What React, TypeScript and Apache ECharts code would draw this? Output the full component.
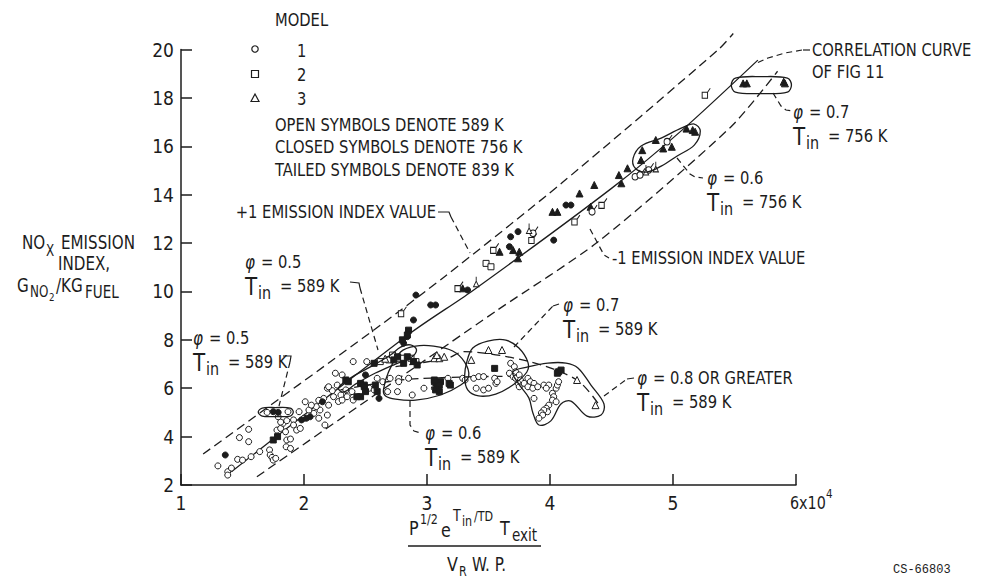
import React, { useEffect, useRef } from 'react';
import * as echarts from 'echarts';

const INK = '#1c1c1c';
const FONT = '"DejaVu Sans Condensed", "DejaVu Sans", sans-serif';
const MONO = '"Liberation Mono", "DejaVu Sans Mono", monospace';
const SX = 0.885;

// ---- axes ----
const X_MIN = 1, X_MAX = 6, X_STEP = 1;
const Y_MIN = 2, Y_MAX = 20, Y_STEP = 2;

// ---- data: model 1 (circles), 2 (squares), 3 (triangles) ----
const openCircles589 = [
  [1.30,2.79],[1.38,2.55],[1.38,2.41],[1.41,2.70],[1.46,3.06],[1.475,3.96],[1.55,3.79],[1.55,4.30],[1.50,3.03],[1.57,3.17],
  [1.64,3.38],[1.72,3.45],[1.725,3.24],[1.74,3.14],[1.75,3.03],[1.77,3.10],[1.70,5.00],[1.87,5.03],[1.78,4.27],[1.81,4.34],
  [1.85,4.20],[1.86,3.86],[1.89,3.90],[1.83,4.55],[1.81,4.60],[1.79,4.82],[1.86,4.66],[1.915,4.69],[1.96,5.03],[1.915,4.48],
  [1.94,4.27],[1.855,3.58],[1.89,3.51],[1.97,4.34],[2.01,5.44],[2.08,4.96],[2.12,4.76],[2.13,5.10],[2.10,5.24],[2.17,4.48],
  [2.19,4.89],[2.16,5.58],[2.19,6.00],[2.00,4.76],[2.04,5.10],[2.06,5.30],[2.12,5.50],[2.20,5.30],[2.23,5.90],[2.28,5.45],
  [2.36,5.75],[2.20,6.06],[2.24,5.65],[2.255,6.62],[2.27,6.13],[2.31,6.55],[2.30,5.72],[2.31,5.51],[2.35,5.65],[2.34,5.93],
  [2.39,5.86],[2.40,5.51],[2.40,7.10],[2.51,7.10],[2.53,6.00],[2.57,5.93],[2.595,6.41],[2.64,6.27],[2.70,6.41],[2.77,6.41],
  [2.76,5.86],[2.85,6.41],[2.88,5.72],[2.975,6.00],[3.06,6.00],[2.77,6.27],[2.68,5.86],[3.17,6.41],[3.29,6.41],[3.31,6.34],
  [3.38,6.41],[3.42,6.48],[3.46,6.48],[3.40,6.00],[3.46,5.93],[3.50,6.00],[3.55,6.41],[3.56,6.20],[3.57,6.27],[3.68,7.03],
  [3.71,6.89],[3.72,6.68],[3.67,6.62],[3.70,6.48],[3.72,6.41],[3.75,6.55],[3.76,6.34],[3.79,6.20],[3.82,6.41],[3.84,6.27],
  [3.87,6.20],[3.74,6.20],[3.75,6.06],[3.82,6.06],[3.86,6.00],[3.90,6.06],[3.95,6.13],[3.99,6.13],[3.97,6.00],[3.87,5.58],
  [4.02,5.79],[4.03,5.65],[4.02,5.51],[4.05,5.44],[3.99,5.30],[3.97,5.17],[3.98,5.03],[3.95,5.10],[3.93,4.98],[3.94,4.89],
  [3.91,4.76],[4.05,6.00],[4.06,6.13],[4.07,6.27]
];
const openSquares589 = [
  [2.69,7.17],[2.72,7.37],[2.77,7.24],[2.81,7.24],[2.87,7.24],[2.91,7.10],[2.62,7.10],[3.48,11.16],[3.52,11.02]
];
const openTriangles589 = [
  [3.06,7.24],[3.10,7.24],[3.08,7.37],[3.14,7.30],[3.36,7.17],[3.50,7.58],[3.61,7.58],[4.22,6.34],[4.37,5.30],[2.66,7.22]
];
const closedCircles756 = [
  [1.36,3.24],[1.75,5.03],[1.79,5.00],[1.98,4.69],[2.02,4.76],[2.05,4.82],[2.15,5.44],[2.81,7.86],[2.84,8.13],[2.85,8.34],
  [2.89,8.82],[2.91,9.85],[3.03,9.44],[3.07,9.44],[3.33,10.06],[3.67,11.85],[3.68,12.26],[3.74,12.47],[4.13,13.57],[4.17,13.57],
  [4.03,12.12],[2.50,6.55],[2.61,5.58]
];
const closedSquares756 = [
  [1.75,3.86],[1.785,4.00],[2.34,6.34],[2.36,6.27],[2.46,6.20],[2.49,6.13],[2.46,5.65],[2.49,6.06],[2.50,5.86],[2.58,6.13],
  [2.595,5.86],[2.43,5.65],[2.73,7.17],[2.81,7.03],[2.84,7.30],[2.89,7.10],[2.57,7.03],[2.76,7.30],[2.92,6.96],[2.80,8.00],
  [2.85,8.40],[2.84,8.20],[3.06,6.27],[3.08,6.06],[3.11,6.27],[3.10,6.13],[3.18,6.20],[3.06,6.34],[3.07,5.93],[3.10,5.86],
  [3.19,6.13],[3.55,6.82],[4.06,6.62],[4.07,6.68],[4.09,6.75]
];
const closedTriangles756 = [
  [3.29,10.13],[3.59,11.64],[3.70,11.71],[3.75,11.64],[3.74,11.37],[4.02,13.29],[4.06,13.29],[4.24,14.05],[4.36,14.40],[4.56,14.81],
  [4.58,14.47],[4.63,15.09],[4.74,15.43],[4.75,15.84],[4.86,16.26],[4.92,15.91],[4.99,15.98],[5.11,16.73],[5.16,16.67],[5.18,16.60],
  [5.57,18.60],[5.60,18.60],[5.90,18.67],[5.91,18.60],[4.33,13.50]
];
const tailedCircles839 = [[4.35,13.36],[4.70,14.81],[4.74,14.88],[4.81,15.09],[4.96,16.26],[3.87,12.47]];
const tailedSquares839 = [[3.26,10.20],[3.55,11.78],[2.80,9.16],[3.86,12.19],[4.21,12.95],[4.43,13.64],[5.27,18.19]];
const tailedTriangles839 = [[3.40,10.40],[3.83,12.60],[4.78,15.02],[4.86,15.15]];

// ---- curves ----
const correlationCurve = [[1.41,2.55],[2.88,8.33],[3.36,9.99],[4.50,14.26],[5.09,16.74],[5.69,19.56]];
const plusOneLine = [[1.18,3.28],[2.62,8.6],[3.14,10.6],[4.10,14.5],[5.37,20.0],[5.49,20.66]];
const minusOneLine = [[1.617,2.34],[3.573,9.23],[4.39,12.05],[5.47,16.8],[5.85,19.1]];
const trend589Low = [[2.296,5.93],[2.785,6.34],[3.274,6.46],[3.722,6.50]];
const trend589High = [[2.744,6.89],[3.165,7.24],[3.30,7.51],[3.84,7.09],[4.22,6.34],[4.39,5.38]];

// ---- enclosing outlines (data coordinates) ----
const outlinePhi05a = [[1.628,5.02],[1.66,5.18],[1.766,5.20],[1.888,5.18],[1.913,5.02],[1.888,4.85],[1.766,4.83],[1.66,4.85]];
const outlinePhi05b = [[2.28,6.01],[2.377,6.42],[2.54,6.88],[2.703,7.37],[2.785,7.70],[2.866,7.79],[2.915,7.58],[2.866,7.25],[2.744,7.0],[2.581,6.63],[2.418,6.17],[2.32,5.84]];
const outlinePhi06x589 = [[2.646,5.93],[2.687,6.67],[2.785,7.50],[2.907,7.74],[3.054,7.74],[3.209,7.54],[3.306,7.08],[3.339,6.50],[3.274,6.13],[3.111,5.72],[2.907,5.51],[2.744,5.55],[2.663,5.68]];
const outlinePhi07x589 = [[3.323,7.08],[3.372,7.66],[3.494,7.95],[3.641,7.99],[3.747,7.66],[3.820,7.08],[3.812,6.67],[3.698,6.13],[3.559,5.76],[3.420,5.68],[3.331,5.93],[3.306,6.46]];
const outlinePhi08x589 = [[3.698,6.67],[3.820,6.88],[3.983,7.04],[4.130,7.04],[4.227,6.84],[4.333,6.13],[4.439,5.35],[4.415,4.89],[4.301,4.85],[4.170,5.47],[4.089,5.35],[4.007,4.65],[3.910,4.48],[3.861,4.98],[3.828,5.60],[3.747,6.17]];
const outlinePhi06x756 = [[4.676,15.51],[4.741,16.01],[4.904,16.34],[5.067,16.75],[5.173,16.92],[5.222,16.63],[5.173,16.05],[5.034,15.60],[4.904,15.18],[4.782,14.93],[4.692,15.10]];
const outlinePhi07x756 = [[5.474,18.53],[5.507,18.82],[5.719,18.88],[5.930,18.82],[5.963,18.53],[5.930,18.24],[5.719,18.18],[5.507,18.24]];

const TAIL_CIRCLE = 'path://M1,9a3,3 0 1,0 6,0a3,3 0 1,0 -6,0zM6.1,6.9L9,3';
const TAIL_SQUARE = 'path://M1,6h6v6h-6zM7,6L10,2';
const TAIL_TRIANGLE = 'path://M1,12L4.5,6L8,12zM4.5,6L4.5,1.5';

const scatter = (name: string, data: number[][], symbol: string, filled: boolean, size: any) => ({
  type: 'scatter', name, data, symbol, symbolSize: size, symbolKeepAspect: true, silent: true, z: 4,
  itemStyle: { color: filled ? INK : '#ffffff', borderColor: INK, borderWidth: 1, opacity: 1 },
});
const curve = (data: number[][], dashed: boolean, smooth = 0.25) => ({
  type: 'line', data, smooth, symbol: 'none', silent: true, clip: false, z: 2,
  lineStyle: { color: INK, width: 1.3, type: dashed ? [9, 5] : 'solid' },
});

const txt = (x: number, y: number, s: string, size = 18.5, o: any = {}) => ({
  type: 'text', x, y, silent: true, z: 10, scaleX: o.family ? 1 : SX,
  style: {
    text: s, fill: INK,
    font: `${o.italic ? 'italic ' : ''}${size}px ${o.family || FONT}`,
    align: o.align || 'left', verticalAlign: 'middle',
    textAlign: o.align || 'left', textVerticalAlign: 'middle',
  },
});
const poly = (pts: number[][], dashed = true, w = 1.2) => ({
  type: 'polyline', silent: true, z: 9,
  shape: { points: pts },
  style: { stroke: INK, lineWidth: w, fill: null, lineDash: dashed ? [6, 4] : null },
});
const phiBlock = (x: number, y: number, phi: string, tin: string) => [
  txt(x, y, 'φ', 19, { italic: true }),
  txt(x + 16, y, '= ' + phi, 18.5),
  txt(x, y + 25, 'T', 25),
  txt(x + 13, y + 31, 'in', 18),
  txt(x + 35, y + 24, '= ' + tin + ' K', 18.5),
];

export default function App() {
  const ref = useRef<HTMLDivElement>(null);
  useEffect(() => {
    const el = ref.current!;
    const chart = echarts.init(el, null, { renderer: 'svg' });
    const axisCommon = {
      type: 'value',
      axisLine: { show: true, onZero: false, lineStyle: { color: INK, width: 1.5 } },
      axisTick: { show: true, inside: true, length: 11, lineStyle: { color: INK, width: 1.5 } },
      splitLine: { show: false },
    };
    chart.setOption({
      animation: false,
      backgroundColor: '#ffffff',
      grid: { left: 181, right: 206, top: 49.5, bottom: 99, containLabel: false },
      xAxis: {
        ...axisCommon, min: X_MIN, max: X_MAX, interval: X_STEP,
        axisLabel: { color: INK, fontSize: 19, fontFamily: FONT, margin: 8, formatter: (v: number) => (v === X_MAX ? '' : String(v)) },
      },
      yAxis: {
        ...axisCommon, min: Y_MIN, max: Y_MAX, interval: Y_STEP,
        axisLabel: { color: INK, fontSize: 19, fontFamily: FONT, margin: 7 },
      },
      series: [
        curve(correlationCurve, false),
        curve(plusOneLine, true),
        curve(minusOneLine, true),
        curve(trend589Low, true, 0.3),
        curve(trend589High, true, 0.3),
        scatter('m1-589', openCircles589, 'circle', false, 6),
        scatter('m2-589', openSquares589, 'rect', false, 6),
        scatter('m3-589', openTriangles589, 'triangle', false, 7),
        scatter('m1-756', closedCircles756, 'circle', true, 6),
        scatter('m2-756', closedSquares756, 'rect', true, 6),
        scatter('m3-756', closedTriangles756, 'triangle', true, 7),
        scatter('m1-839', tailedCircles839, TAIL_CIRCLE, false, [9, 10]),
        scatter('m2-839', tailedSquares839, TAIL_SQUARE, false, [9, 10]),
        scatter('m3-839', tailedTriangles839, TAIL_TRIANGLE, false, [8, 10]),
      ],
    });

    const px = (p: number[]) => chart.convertToPixel({ gridIndex: 0 }, p) as number[];
    const outline = (pts: number[][]) => ({
      type: 'polygon', silent: true, z: 8,
      shape: { points: pts.map(px), smooth: 0.35 },
      style: { fill: 'none', stroke: INK, lineWidth: 1.3 },
    });

    const g: any[] = [
      outline(outlinePhi05a), outline(outlinePhi05b), outline(outlinePhi06x589), outline(outlinePhi07x589),
      outline(outlinePhi08x589), outline(outlinePhi06x756), outline(outlinePhi07x756),
      // legend
      txt(275, 20, 'MODEL', 18.5),
      { type: 'circle', silent: true, shape: { cx: 255, cy: 49, r: 3.2 }, style: { fill: '#fff', stroke: INK, lineWidth: 1.2 } },
      { type: 'rect', silent: true, shape: { x: 251.5, y: 70.5, width: 7, height: 7 }, style: { fill: '#fff', stroke: INK, lineWidth: 1.2 } },
      { type: 'polygon', silent: true, shape: { points: [[255, 94], [259, 101.5], [251, 101.5]] }, style: { fill: '#fff', stroke: INK, lineWidth: 1.2 } },
      txt(297, 51, '1'), txt(297, 75, '2'), txt(297, 99, '3'),
      txt(275, 125, 'OPEN SYMBOLS DENOTE 589 K'),
      txt(275, 147, 'CLOSED SYMBOLS DENOTE 756 K'),
      txt(275, 170, 'TAILED SYMBOLS DENOTE 839 K'),
      // y-axis title
      txt(22, 242, 'NO', 19), txt(46, 251, 'X', 15), txt(61, 242, 'EMISSION', 19),
      txt(58, 263, 'INDEX,', 19),
      txt(17, 285, 'G', 19), txt(30, 292, 'NO', 15), txt(49, 297, '2', 11), txt(56, 285, '/KG', 19), txt(85, 292, 'FUEL', 17),
      // x tick "6x10^4"
      txt(790, 503, '6x10', 18), txt(826, 494, '4', 13),
      // x-axis title
      txt(409, 528, 'P', 20), txt(420, 519, '1/2', 14), txt(441, 530, 'e', 20),
      txt(453, 516, 'T', 16), txt(462, 521, 'in', 14), txt(474, 516, '/TD', 14),
      txt(500, 528, 'T', 20), txt(512, 535, 'exit', 17),
      { type: 'line', silent: true, shape: { x1: 408, y1: 546, x2: 541, y2: 546 }, style: { stroke: INK, lineWidth: 1.5 } },
      txt(447, 564, 'V', 20), txt(459, 571, 'R', 14), txt(472, 564, 'W. P.', 19),
      // annotations
      ...phiBlock(193, 338, '0.5', '589'),
      ...phiBlock(245, 262, '0.5', '589'),
      ...phiBlock(563, 305, '0.7', '589'),
      ...phiBlock(637, 378, '0.8 OR GREATER', '589'),
      ...phiBlock(425, 433, '0.6', '589'),
      ...phiBlock(707, 178, '0.6', '756'),
      ...phiBlock(793, 112, '0.7', '756'),
      txt(436, 212, '+1 EMISSION INDEX VALUE', 18.5, { align: 'right' }),
      txt(612, 258, '-1 EMISSION INDEX VALUE', 18.5),
      txt(812, 50, 'CORRELATION CURVE', 18.5),
      txt(812, 72, 'OF FIG 11', 18.5),
      txt(893, 570, 'CS-66803', 12, { family: MONO }),
      // leaders
      poly([[283, 356], [291, 356], [290, 362]], false),
      poly([[290, 362], [279, 406]]),
      poly([[350, 282], [359, 283], [360, 288]], false),
      poly([[360, 288], [378, 350]]),
      poly([[438, 212], [449, 212], [451, 217]], false),
      poly([[451, 217], [470, 253]]),
      poly([[590, 229], [604, 255], [609, 258]]),
      poly([[514, 347], [553, 306]]), poly([[553, 306], [559, 304]], false),
      poly([[604, 396], [627, 379]]), poly([[627, 379], [634, 378]], false),
      poly([[410, 401], [410, 425], [414, 431], [421, 433]]),
      poly([[677, 158], [690, 174], [695, 177], [703, 178]]),
      poly([[773, 93], [781, 106], [786, 110], [792, 111]]),
      poly([[803, 50], [810, 50]], false),
      poly([[802, 50], [785, 53], [768, 58], [757, 63]]),
    ];
    chart.setOption({ graphic: g });
    return () => chart.dispose();
  }, []);
  return (
    <div
      ref={ref}
      style={{ position: 'absolute', left: 0, top: 0, width: 1002, height: 584, background: '#fff' }}
    />
  );
}
